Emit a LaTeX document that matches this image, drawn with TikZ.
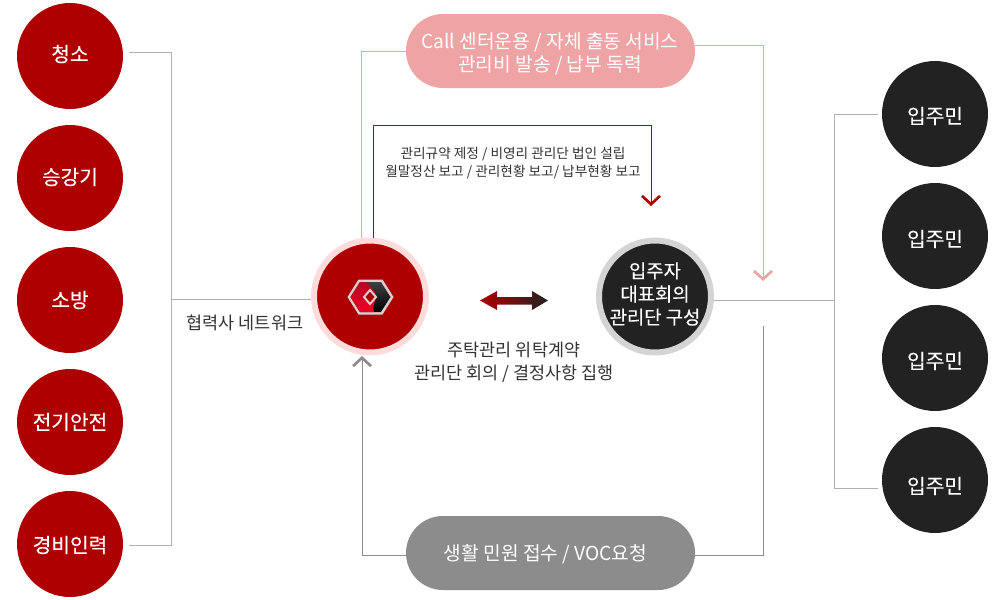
\documentclass[tikz,border=0pt]{standalone}
\usepackage{fontspec}
\usepackage{xcolor}
\usepackage{tikz}
\usetikzlibrary{arrows.meta}
\setmainfont{Noto Sans CJK KR}
\newfontfamily\discfont[FakeBold=0.2]{Noto Sans CJK KR}
\definecolor{hubred}{RGB}{174,0,0}
\definecolor{hubring}{RGB}{255,220,220}
\definecolor{darkdisc}{RGB}{34,34,34}
\definecolor{darkring}{RGB}{212,212,212}
\definecolor{pinkfill}{RGB}{238,163,165}
\definecolor{greyfill}{RGB}{140,140,140}
\definecolor{wireline}{RGB}{176,176,176}
\definecolor{labeltext}{RGB}{51,51,51}
\definecolor{logoedge}{RGB}{225,205,205}
\definecolor{logotop}{RGB}{185,0,35}
\definecolor{logobottom}{RGB}{240,0,35}
\newcommand{\labelfont}{\fontsize{13.1}{17.3}\selectfont}
\newcommand{\pillfont}{\fontsize{14.4}{17.3}\selectfont}
\newcommand{\councilfont}{\discfont\fontsize{14.1}{17.4}\selectfont}
\newcommand{\discsize}{\discfont\fontsize{15.2}{18}\selectfont}
\newcommand{\smallfont}{\fontsize{10.25}{13.1}\selectfont}
\tikzset{
	partner/.style={circle, fill=hubred, minimum size=79.5pt, inner sep=0pt},
	resident/.style={circle, fill=darkdisc, minimum size=79.5pt, inner sep=0pt},
	disctext/.style={inner sep=0pt, text=white, font=\discsize},
	pill/.style={rounded corners=27.7pt, minimum width=216.75pt, minimum height=55.5pt, inner sep=0pt},
	pilltext/.style={inner sep=0pt, align=center, text=white, font=\pillfont},
	caption/.style={inner sep=0pt, align=center, text=labeltext, font=\labelfont},
	wire/.style={wireline, line width=0.6pt},
	pinkbarb/.style={pinkfill, line width=0.75pt, -{Straight Barb[length=6.2pt, width=13.5pt, line width=2pt]}},
	redbarb/.style={hubred, line width=0.75pt, -{Straight Barb[length=6.2pt, width=13.5pt, line width=2pt]}},
	greybarb/.style={greyfill, line width=0.75pt, -{Straight Barb[length=6.2pt, width=13.5pt, line width=2pt]}}
}

\begin{document}
\begin{tikzpicture}[x=0.75pt, y=-0.75pt]
	\useasboundingbox (0,0) rectangle (1000,600);

	% Partner circles
	\node[partner, label={[disctext, yshift=1.5pt]center:청소}] (cleaning) at (70,56) {};
	\node[partner, label={[disctext, yshift=0.75pt]center:승강기}] (elevator) at (70,178) {};
	\node[partner, label={[disctext]center:소방}] (firesafe) at (70,300) {};
	\node[partner, label={[disctext]center:전기안전}] (electric) at (70,422) {};
	\node[partner, label={[disctext, yshift=-0.75pt]center:경비인력}] (security) at (70,544) {};

	% Resident circles
	\node[resident, label={[disctext, yshift=-1.5pt]center:입주민}] (resident1) at (935,114) {};
	\node[resident, label={[disctext, yshift=-2.25pt]center:입주민}] (resident2) at (935,236) {};
	\node[resident, label={[disctext, yshift=-2.25pt]center:입주민}] (resident3) at (935,358) {};
	\node[resident, label={[disctext, yshift=-4.5pt]center:입주민}] (resident4) at (935,480) {};

	% Hub and council
	\node[circle, fill=hubred, draw=hubring, line width=4.5pt, minimum size=84pt, inner sep=0pt] (hub) at (370,296.5) {};
	\node[circle, fill=darkdisc, draw=darkring, line width=4.5pt, minimum size=84pt, inner sep=0pt] (council) at (655,296.5) {};
	\node[inner sep=0pt, text=white, align=center, font=\councilfont] (counciltext) at (655,294) {입주자\\대표회의\\관리단 구성};

	% Pills
	\node[pill, fill=pinkfill] (service) at (550.5,51) {};
	\node[pilltext] (servicetext) at (550,54) {Call 센터운용 / 자체 출동 서비스\\관리비 발송 / 납부 독력};
	\node[pill, fill=greyfill] (complaint) at (550.5,553) {};
	\node[pilltext] (complainttext) at (545.5,554.5) {생활 민원 접수 / VOC요청};

	% Labels
	\node[caption] (network) at (245,323) {협력사 네트워크};
	\node[caption] (contract) at (514,362) {주탁관리 위탁계약\\관리단 회의 / 결정사항 집행};
	\node[caption, font=\smallfont] (report) at (513,163) {관리규약 제정 / 비영리 관리단 법인 설립\\월말정산 보고 / 관리현황 보고/ 납부현황 보고};

	% Free ends
	\coordinate (netjoin) at (171,299);
	\coordinate (residentjoin) at (834,300);
	\coordinate (pinktip) at (763,281);
	\coordinate (redtip) at (651,206);
	\coordinate (redstart) at (373,238);
	\coordinate (pinkstart) at (361.5,238);
	\coordinate (greytip) at (362,356);
	\coordinate (greystart) at (763,326);

	% Partner wiring
	\draw[wire] (129,52) -| (netjoin);
	\draw[wire] (129,545) -| (netjoin);
	\draw[wire] (netjoin) -- (hub.west |- netjoin);

	% Resident wiring
	\draw[wire] (714,300) -- (residentjoin);
	\draw[wire] (878,114) -| (residentjoin);
	\draw[wire] (878,488) -| (residentjoin);

	% Service, report and complaint lines
	\draw[pinkfill, line width=0.75pt] (service.west |- 0,51) -| (pinkstart);
	\draw[pinkbarb] (service.east |- 0,45) -| (pinktip);
	\draw[redbarb] (redstart) |- (651,125) -- (redtip);
	\draw[greybarb] (complaint.west |- 0,555) -| (greytip);
	\draw[greyfill, line width=0.75pt] (complaint.east |- 0,555) -| (greystart);

	% Contract arrow
	\shade[left color=hubred, right color=darkdisc] (480,300.5) -- (497,291) -- (497,297) -- (532,297) -- (532,291) -- (548,300.5) -- (532,310) -- (532,304.5) -- (497,304.5) -- (497,310) -- cycle;

	% Logo
	\fill[logoedge] (347.5,297) -- (358.5,279.5) -- (382.5,279.5) -- (393.5,297) -- (382.5,314.5) -- (358.5,314.5) -- cycle;
	\shade[top color=black!75, bottom color=black] (350.5,297) -- (360,282) -- (381,282) -- (390.5,297) -- (381,312) -- (360,312) -- cycle;
	\shade[top color=logotop, bottom color=logobottom] (350.5,297) -- (360,282) -- (366.5,282) .. controls (371,288) and (376,291) .. (376,297) .. controls (376,303) and (371,306) .. (374,312) -- (360,312) -- cycle;
	\draw[logoedge, line width=1.5pt, fill=hubred] (370,290) -- (376,297) -- (370,304) -- (364,297) -- cycle;
\end{tikzpicture}
\end{document}
